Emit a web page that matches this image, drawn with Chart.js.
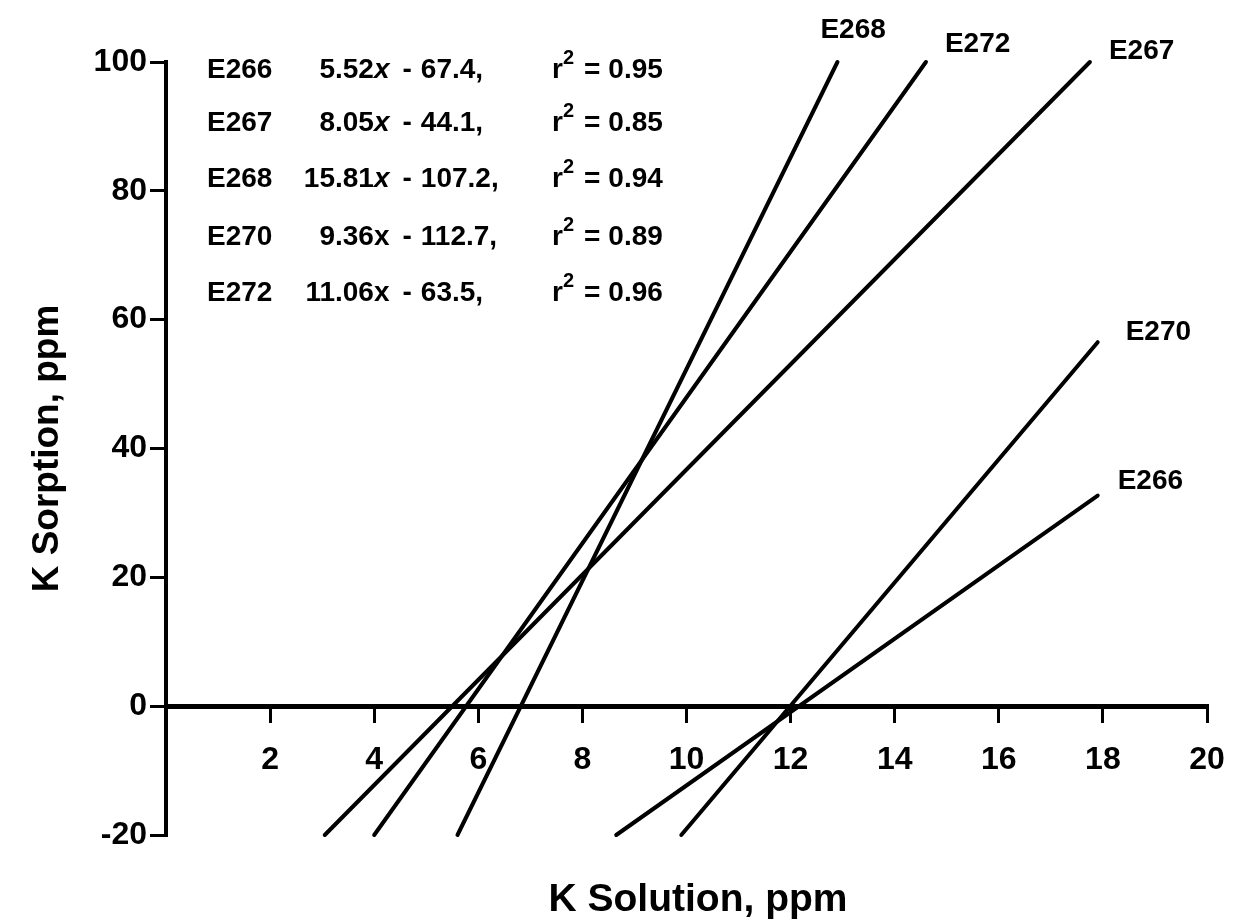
<!DOCTYPE html>
<html>
<head>
<meta charset="utf-8">
<script src="https://cdn.jsdelivr.net/npm/chart.js@4/dist/chart.umd.min.js"></script>
<style>
html,body{margin:0;padding:0;background:#fff;}
#wrap{width:1234px;height:922px;position:relative;}
</style>
</head>
<body>
<div id="wrap"><canvas id="c" width="1234" height="922"></canvas></div>
<script>
// ---- data ----
const seriesNames = ['E266', 'E267', 'E268', 'E270', 'E272'];
const lineE266 = [{x: 8.65, y: -20}, {x: 17.9, y: 32.7}];
const lineE267 = [{x: 3.05, y: -20}, {x: 17.75, y: 100}];
const lineE268 = [{x: 5.6, y: -20}, {x: 12.9, y: 100}];
const lineE270 = [{x: 9.9, y: -20}, {x: 17.9, y: 56.5}];
const lineE272 = [{x: 4.0, y: -20}, {x: 14.6, y: 100}];
const slopes = ['5.52', '8.05', '15.81', '9.36', '11.06'];
const intercepts = ['67.4', '44.1', '107.2', '112.7', '63.5'];
const rSquared = ['0.95', '0.85', '0.94', '0.89', '0.96'];
const italicX = [true, true, true, false, false];
const xTicks = [2, 4, 6, 8, 10, 12, 14, 16, 18, 20];
const yTicks = [-20, 0, 20, 40, 60, 80, 100];
const xTitle = 'K Solution, ppm';
const yTitle = 'K Sorption, ppm';

// ---- styling ----
const FAM = '"Liberation Sans", Arial, Helvetica, sans-serif';
Chart.defaults.font.family = FAM;
Chart.defaults.color = '#000';
const lineData = [lineE266, lineE267, lineE268, lineE270, lineE272];
// label offset (px) from each line's upper end
const labelOffsets = [[20, -14], [19, -11], [-17, -32], [28, -10], [19, -18]];
const legendRowY = [70, 123, 179, 237, 293];

const annotate = {
  id: 'annotate',
  afterDraw(chart) {
    const {ctx, scales: {x, y}} = chart;
    ctx.save();
    ctx.fillStyle = '#000';
    ctx.textBaseline = 'middle';
    const F = 'bold 28px ' + FAM;
    // line end labels
    lineData.forEach((pts, i) => {
      const end = pts[pts.length - 1];
      const px = x.getPixelForValue(end.x), py = y.getPixelForValue(end.y);
      ctx.font = F;
      ctx.textAlign = 'left';
      ctx.fillText(seriesNames[i], px + labelOffsets[i][0], py + labelOffsets[i][1]);
    });
    // equations block
    seriesNames.forEach((name, i) => {
      const yy = legendRowY[i];
      ctx.font = F;
      ctx.textAlign = 'left';
      ctx.fillText(name, 207, yy);
      const parts = slopes[i].split('.');
      ctx.textAlign = 'right';
      ctx.fillText(parts[0], 335, yy);
      ctx.textAlign = 'left';
      let cx = 335;
      const frac = '.' + parts[1];
      ctx.fillText(frac, cx, yy);
      cx += ctx.measureText(frac).width;
      ctx.font = (italicX[i] ? 'italic ' : '') + 'bold 28px ' + FAM;
      ctx.fillText('x', cx, yy);
      cx += ctx.measureText('x').width;
      ctx.font = F;
      cx += 13;
      ctx.fillText('-', cx, yy);
      cx += ctx.measureText('-').width + 9;
      ctx.fillText(intercepts[i] + ',', cx, yy);
      // r^2
      let rx = 552;
      ctx.fillText('r', rx, yy);
      rx += ctx.measureText('r').width;
      ctx.font = 'bold 20px ' + FAM;
      ctx.fillText('2', rx, yy - 12);
      rx += ctx.measureText('2').width;
      ctx.font = F;
      ctx.fillText('=', rx + 10, yy);
      rx += 10 + ctx.measureText('=').width + 8;
      ctx.fillText(rSquared[i], rx, yy);
    });
    // x title
    ctx.font = 'bold 39px ' + FAM;
    ctx.textAlign = 'center';
    ctx.fillText(xTitle, 698, 900);
    ctx.restore();
  }
};

new Chart(document.getElementById('c'), {
  type: 'scatter',
  data: {
    datasets: lineData.map((pts, i) => ({
      label: seriesNames[i],
      data: pts,
      showLine: true,
      borderColor: '#000',
      backgroundColor: '#000',
      borderWidth: 4,
      borderCapStyle: 'round',
      pointRadius: 0,
      fill: false,
      tension: 0,
      clip: false
    }))
  },
  options: {
    responsive: false,
    animation: false,
    layout: {padding: {top: 62, right: 27, left: 0, bottom: 87}},
    plugins: {legend: {display: false}, tooltip: {enabled: false}},
    scales: {
      x: {
        type: 'linear', min: 0, max: 20,
        position: {y: 0},
        afterBuildTicks: s => { s.ticks = [0].concat(xTicks).map(v => ({value: v})); },
        afterFit: s => { s.height = 0; s.paddingLeft = 0; s.paddingRight = 0; },
        grid: {
          drawOnChartArea: false, drawTicks: true, tickLength: 14, lineWidth: 3,
          color: c => (c.tick && c.tick.value === 0) ? 'rgba(0,0,0,0)' : '#000'
        },
        border: {display: true, color: '#000', width: 5},
        ticks: {
          color: '#000', padding: 21, maxRotation: 0, autoSkip: false,
          font: {family: FAM, size: 32, weight: 'bold'},
          callback: v => v === 0 ? '' : String(v)
        }
      },
      y: {
        type: 'linear', min: -20, max: 100, position: 'left',
        afterBuildTicks: s => { s.ticks = yTicks.map(v => ({value: v})); },
        afterFit: s => { s.width = 166; s.paddingTop = 0; s.paddingBottom = 0; },
        grid: {drawOnChartArea: false, drawTicks: true, tickLength: 16, lineWidth: 3, color: '#000'},
        border: {display: true, color: '#000', width: 4},
        ticks: {
          color: '#000', padding: 3, autoSkip: false,
          font: {family: FAM, size: 32, weight: 'bold'},
          callback: v => String(v)
        },
        title: {
          display: true, text: yTitle, color: '#000',
          font: {family: FAM, size: 37, weight: 'bold'},
          padding: {top: 26, bottom: 0}
        }
      }
    }
  },
  plugins: [annotate]
});
</script>
</body>
</html>
